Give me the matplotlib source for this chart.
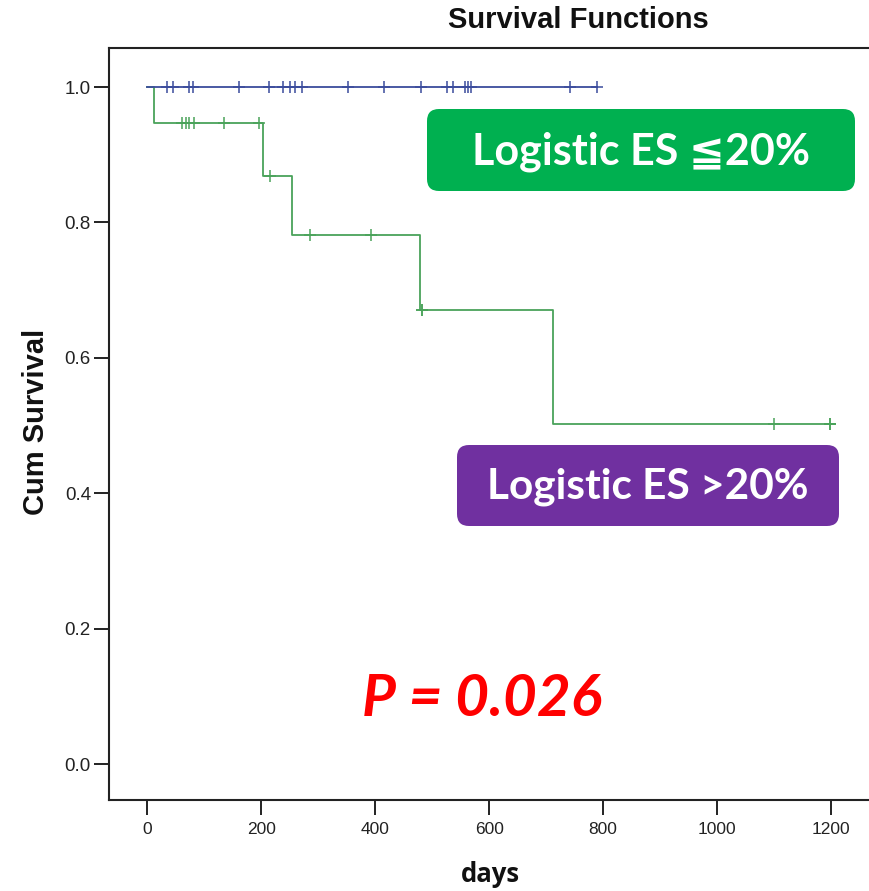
import numpy as np
import matplotlib
matplotlib.use("Agg")
import matplotlib.pyplot as plt
from matplotlib.patches import FancyBboxPatch

# ---- data ----
low_es_times = [0, 789]
low_es_surv = [1.0, 1.0]
low_es_censored = [35, 45, 74, 80, 162, 214, 238, 250, 260, 271, 353, 415,
                   481, 526, 536, 557, 563, 568, 741, 789]

high_es_times = [0, 12, 203, 254, 479, 712, 1207]
high_es_surv = [1.0, 0.947, 0.868, 0.781, 0.670, 0.502, 0.502]
high_es_censored = [62, 68, 74, 83, 135, 196, 216, 285, 392, 482, 482,
                    1099, 1197, 1197]

x_ticks = [0, 200, 400, 600, 800, 1000, 1200]
y_ticks = [0.0, 0.2, 0.4, 0.6, 0.8, 1.0]

label_low = "Logistic ES \u226620%"
label_high = "Logistic ES >20%"
p_text = "P = 0.026"

W, H = 869, 891
fig = plt.figure(figsize=(W / 100, H / 100), dpi=100)

def fx(px):
    return px / W

def fy(py):
    return 1 - py / H

left, right, top, bottom = 109, 870, 48, 800
ax = fig.add_axes([fx(left), fy(bottom), fx(right - left), (bottom - top) / H])
ax.set_xlim(-66.7, 1268)
ax.set_ylim(-0.053, 1.0576)

blue = "#3b4c9c"
green = "#4aa35a"

def surv_at(times, surv, t):
    idx = np.searchsorted(times, t, side="right") - 1
    return np.asarray(surv)[idx]

ax.step(low_es_times, low_es_surv, where="post", color=blue, lw=1.3, zorder=3)
ax.plot(low_es_censored, surv_at(low_es_times, low_es_surv, low_es_censored),
        ls="none", marker="+", ms=8, mew=1.1, color=blue, zorder=3)

ax.step(high_es_times, high_es_surv, where="post", color=green, lw=1.3, zorder=2)
ax.plot(high_es_censored, surv_at(high_es_times, high_es_surv, high_es_censored),
        ls="none", marker="+", ms=8, mew=1.1, color=green, zorder=2)

ax.set_xticks(x_ticks)
ax.set_yticks(y_ticks)
ax.set_xticklabels([str(v) for v in x_ticks], fontfamily="Liberation Sans", fontsize=12.5, color="#222222")
ax.set_yticklabels([f"{v:.1f}" for v in y_ticks], fontfamily="Liberation Sans", fontsize=13.5, color="#222222")
ax.tick_params(direction="out", length=11, width=1.4, colors="#222222")
ax.tick_params(axis="x", pad=5)
ax.tick_params(axis="y", pad=2)
for s in ["left", "bottom", "top"]:
    ax.spines[s].set_linewidth(1.5)
    ax.spines[s].set_color("#222222")
ax.spines["right"].set_visible(False)

fig.text(fx(578), fy(20), "Survival Functions", ha="center", va="center",
         fontfamily="Liberation Sans", fontweight="bold", fontsize=21, color="#111111")
fig.text(fx(36), fy(422), "Cum Survival", ha="center", va="center", rotation=90,
         fontfamily="Liberation Sans", fontweight="bold", fontsize=21, color="#111111")
fig.text(fx(490), fy(874), "days", ha="center", va="center",
         fontfamily="Open Sans", fontweight="bold", fontsize=18.5, color="#111111")

# Label boxes
def box(x0, y0, x1, y1, color):
    r = 12
    p = FancyBboxPatch((fx(x0 + r), fy(y1 - r)), fx(x1 - x0 - 2 * r), (y1 - y0 - 2 * r) / H,
                       boxstyle=f"round,pad={r / W},rounding_size={r / W}",
                       transform=fig.transFigure, facecolor=color, edgecolor="none",
                       mutation_aspect=W / H, zorder=5)
    fig.add_artist(p)

box(427, 109, 855, 191, "#00b050")
box(457, 445, 839, 526, "#7030a0")
fig.text(fx(641), fy(152), label_low, ha="center", va="center", color="white",
         fontfamily=["Lato", "DejaVu Sans"], fontweight="bold", fontsize=31, zorder=6)
fig.text(fx(648), fy(487), label_high, ha="center", va="center", color="white",
         fontfamily=["Lato", "DejaVu Sans"], fontweight="bold", fontsize=30.5, zorder=6)

fig.text(fx(482), fy(700), p_text, ha="center", va="center", color="#ff0000",
         fontfamily="Lato", fontweight="bold", fontstyle="italic", fontsize=42)

fig.savefig("out.png", dpi=100)
